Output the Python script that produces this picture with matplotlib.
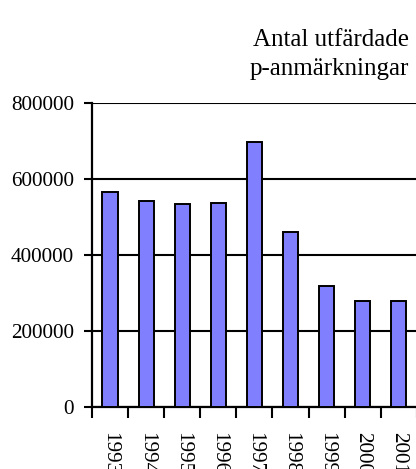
import matplotlib
matplotlib.use("Agg")
import matplotlib.pyplot as plt
import numpy as np

years = ["1993", "1994", "1995", "1996", "1997", "1998", "1999", "2000", "2001"]
values = [565000, 542000, 534000, 536000, 699000, 460000, 320000, 279000, 279000]
yticks = [0, 200000, 400000, 600000, 800000]
title_lines = ["Antal utfärdade", "p-anmärkningar"]

plt.rcParams["font.family"] = ["Liberation Serif", "DejaVu Serif"]

fig = plt.figure(figsize=(4.16, 4.69), dpi=100)
ax = fig.add_axes([92/416, 61.7/469, 1 - 92/416 + 0.002, 304.2/469])

x = np.arange(len(years))
ax.bar(x, values, width=0.42, color="#8080FF", edgecolor="black", linewidth=1.4, zorder=3)

ax.set_xlim(-0.5, len(years) - 0.5)
ax.set_ylim(0, 800000)
ax.set_yticks(yticks)
ax.set_yticklabels([str(v) for v in yticks], fontsize=15.3)
ax.yaxis.grid(True, color="black", linewidth=1.5, zorder=0)
ax.set_axisbelow(True)

ax.set_xticks(x)
ax.set_xticklabels(years, rotation=270, fontsize=15.3, va="top", ha="center")
ax.tick_params(axis="x", which="major", length=0, pad=18)
ax.set_xticks(np.arange(-0.5, len(years), 1), minor=True)
ax.tick_params(axis="x", which="minor", length=8, width=1.5, direction="out")
ax.tick_params(axis="y", which="major", length=6, width=1.5, direction="out", pad=7)

for s in ["top", "right"]:
    ax.spines[s].set_visible(False)
ax.spines["left"].set_linewidth(1.6)
ax.spines["bottom"].set_linewidth(1.6)

fig.text(409/416, 1 - 46/469, title_lines[0], ha="right", va="baseline", fontsize=18)
fig.text(409/416, 1 - 75/469, title_lines[1], ha="right", va="baseline", fontsize=18)

fig.savefig("out.png", dpi=100)
